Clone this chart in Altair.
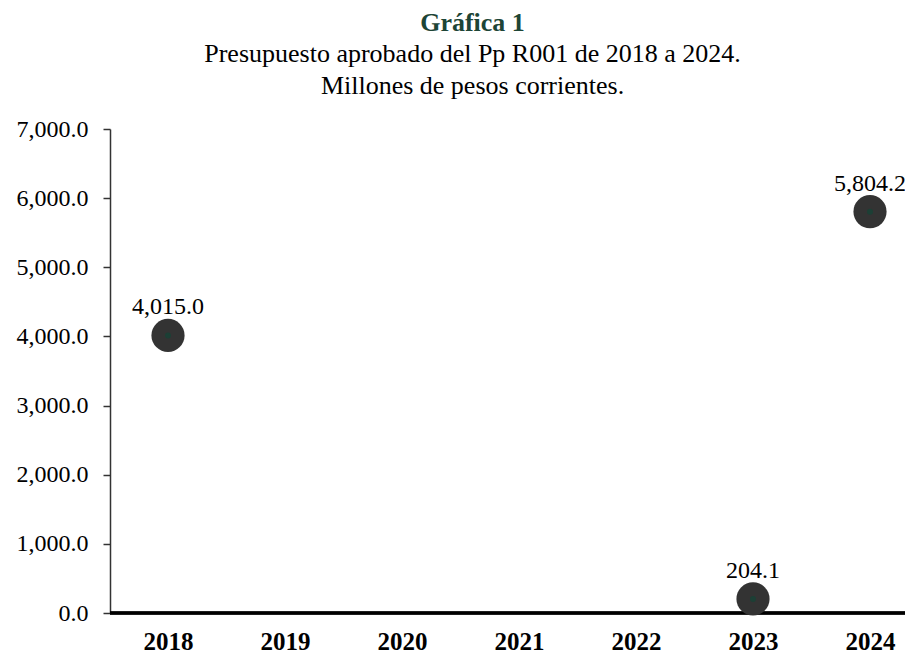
import altair as alt
import pandas as pd

years = ["2018", "2019", "2020", "2021", "2022", "2023", "2024"]
valor_years = ["2018", "2023", "2024"]
valores = [4015.0, 204.1, 5804.2]
etiquetas = ["4,015.0", "204.1", "5,804.2"]

df = pd.DataFrame({"anio": valor_years, "valor": valores, "etiqueta": etiquetas})

FONT = "Liberation Serif"
W, H = 795, 484

x = alt.X("anio:N", scale=alt.Scale(type="point", domain=years, range=[58, 760], padding=0),
          axis=alt.Axis(title=None, labelAngle=0, labelFontWeight="bold", labelFontSize=25,
                        labelColor="black", labelFont=FONT, ticks=False, labelPadding=16,
                        domain=False, grid=False))
y = alt.Y("valor:Q", scale=alt.Scale(domain=[0, 7000], nice=False),
          axis=alt.Axis(title=None, values=[0, 1000, 2000, 3000, 4000, 5000, 6000, 7000],
                        format=",.1f", labelFontSize=24, labelColor="black", labelFont=FONT,
                        tickColor="#333333", tickSize=7, tickWidth=1.5, labelPadding=15,
                        domainColor="#333333", domainWidth=1.5, grid=False))

base = alt.Chart(df)
baseline = base.mark_rule(color="black", strokeWidth=3).encode(
    y=alt.datum(0), x=alt.value(0), x2=alt.value(W))
pts = base.mark_point(filled=True, shape="circle", size=1100, color="#333333", opacity=1).encode(x=x, y=y)
dots = base.mark_point(filled=True, shape="circle", size=36, color="#1c3f35", opacity=1).encode(x=x, y=y)
labels = base.mark_text(dy=-28, fontSize=24, font=FONT, color="black").encode(x=x, y=y, text="etiqueta:N")

chart = alt.layer(baseline, pts, dots, labels).properties(
    width=W, height=H,
    autosize=alt.AutoSizeParams(type="none"),
    padding={"left": 102, "top": 121, "right": 0, "bottom": 42},
    title=alt.TitleParams(
        text="Gráfica 1",
        subtitle=["Presupuesto aprobado del Pp R001 de 2018 a 2024.", "Millones de pesos corrientes."],
        font=FONT, fontSize=26, fontWeight="bold", color="#1d4536",
        subtitleFont=FONT, subtitleFontSize=26, subtitleColor="black", subtitlePadding=5,
        subtitleLineHeight=32,
        anchor="middle", frame="group", offset=18, dx=-35,
    ),
).configure_view(stroke=None)

chart.save("out.html", embed_options={"renderer": "svg", "actions": False})
